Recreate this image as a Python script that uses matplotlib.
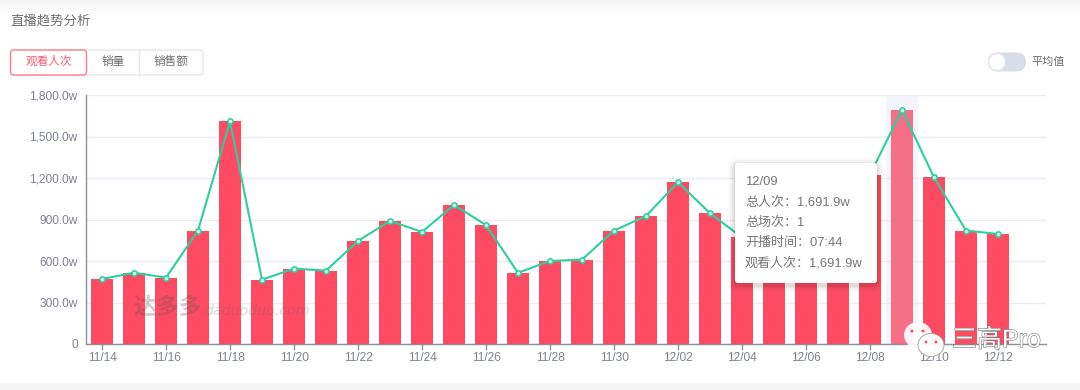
import matplotlib
matplotlib.use('Agg')
import matplotlib.pyplot as plt
import matplotlib.patheffects as pe
from matplotlib.patches import FancyBboxPatch, Rectangle, Ellipse, Polygon
import numpy as np

plt.rcParams['font.family'] = ['Liberation Sans', 'Noto Sans CJK SC', 'DejaVu Sans']

# data (12/05-12/07 tops are behind the tooltip, estimated)
days = ['11/14', '11/15', '11/16', '11/17', '11/18', '11/19', '11/20', '11/21', '11/22', '11/23',
        '11/24', '11/25', '11/26', '11/27', '11/28', '11/29', '11/30', '12/01', '12/02', '12/03',
        '12/04', '12/05', '12/06', '12/07', '12/08', '12/09', '12/10', '12/11', '12/12']
views = [470, 515, 480, 820, 1610, 465, 545, 530, 745, 890,
         810, 1005, 860, 515, 600, 610, 820, 925, 1170, 945,
         770, 800, 860, 930, 1225, 1691.9, 1205, 820, 795]
yticks = [0, 300, 600, 900, 1200, 1500, 1800]
ylabels = ['0', '300.0w', '600.0w', '900.0w', '1,200.0w', '1,500.0w', '1,800.0w']
tabs = ['观看人次', '销量', '销售额']
tip_lines = ['12/09', '总人次：1,691.9w', '总场次：1', '开播时间：07:44', '观看人次：1,691.9w']
hover = '12/09'

W, H = 1080, 390
fig = plt.figure(figsize=(W / 100, H / 100), dpi=100, facecolor='white')

# page chrome in pixel coordinates
bg = fig.add_axes([0, 0, 1, 1], zorder=0)
grad = np.linspace(0.955, 1, 16).reshape(-1, 1)
bg.imshow(grad, extent=(0, W, 16, 0), cmap='gray', vmin=0, vmax=1, aspect='auto')
bg.set_xlim(0, W)
bg.set_ylim(H, 0)
bg.axis('off')
bg.add_patch(Rectangle((0, 383), W, 7, fc='#f5f5f5', ec='none'))

# chart
ax = fig.add_axes([86 / W, 1 - 344 / H, 960 / W, 249 / H], zorder=1)
ax.patch.set_alpha(0)
x = np.arange(len(days))
hi = days.index(hover)
ax.axvspan(hi - 0.5, hi + 0.5, color='#f4f5fb', lw=0, zorder=0)
colors = ['#f76e87' if d == hover else '#ff4b62' for d in days]
ax.bar(x, views, width=0.69, color=colors, zorder=2)
ax.plot(x, views, color='#2ccf9f', lw=1.5, zorder=3, marker='o', ms=3.8,
        mfc='#c9f3e5', mec='#2ccf9f', mew=1.1, clip_on=False)
ax.set_xlim(-0.5, 29.5)
ax.set_ylim(0, 1800)
ax.set_yticks(yticks)
ax.set_yticklabels(ylabels)
ax.set_xticks(x[::2])
ax.set_xticklabels(days[::2])
ax.tick_params(axis='y', length=0, pad=6, labelsize=8.6, labelcolor='#7f8290')
ax.tick_params(axis='x', length=4, width=1, color='#8b8e98', pad=2, labelsize=8.6, labelcolor='#7f8290')
ax.grid(axis='y', color='#e9ebf5', lw=1, zorder=1)
ax.set_axisbelow(True)
for s in ['top', 'right']:
    ax.spines[s].set_visible(False)
for s in ['left', 'bottom']:
    ax.spines[s].set_color('#8b8e98')
    ax.spines[s].set_linewidth(1)

# overlay: title, tabs, toggle, tooltip, watermarks
ov = fig.add_axes([0, 0, 1, 1], zorder=2)
ov.set_xlim(0, W)
ov.set_ylim(H, 0)
ov.axis('off')
ov.text(10, 21, '直播趋势分析', fontsize=9.6, color='#6e6e6e', va='center')

ov.add_patch(FancyBboxPatch((13, 50), 190, 25, boxstyle='round,pad=0,rounding_size=3',
                            fc='white', ec='#e8e8ea', lw=1))
ov.plot([138.5, 138.5], [50, 75], color='#e8e8ea', lw=1)
ov.add_patch(FancyBboxPatch((10.5, 50), 76, 25, boxstyle='round,pad=0,rounding_size=3',
                            fc='white', ec='#ff7c8c', lw=1))
tab_x = [48.5, 113, 171]
tab_c = ['#ff5a70', '#6e6e6e', '#6e6e6e']
for t, tx, c in zip(tabs, tab_x, tab_c):
    ov.text(tx, 62, t, fontsize=8.4, color=c, ha='center', va='center')

ov.add_patch(FancyBboxPatch((988, 52.5), 38, 19, boxstyle='round,pad=0,rounding_size=9.5',
                            fc='#d9dde7', ec='none'))
ov.add_patch(Ellipse((997, 62), 17, 17, fc='white', ec='#e4e7ef', lw=1))
ov.text(1031, 62, '平均值', fontsize=8, color='#6e6e6e', va='center')

# tooltip with soft shadow
for grow, a in [(7, 0.02), (5, 0.03), (3, 0.04), (1.5, 0.05)]:
    ov.add_patch(FancyBboxPatch((735 - grow, 163 - grow + 2), 142 + 2 * grow, 120 + 2 * grow,
                                boxstyle='round,pad=0,rounding_size=%g' % (3 + grow),
                                fc='black', ec='none', alpha=a))
ov.add_patch(FancyBboxPatch((735, 163), 142, 120, boxstyle='round,pad=0,rounding_size=3',
                            fc='white', ec='none'))
for i, t in enumerate(tip_lines):
    ov.text(745, 182 + i * 20.2, t, fontsize=9.4, color='#777777', va='center')

# watermarks
ov.text(133, 307, '达多多', fontsize=16.5, fontweight='bold', style='italic', color='#555555', alpha=0.28,
        va='center', family=['Noto Sans CJK SC', 'DejaVu Sans'])
ov.text(204, 311, 'daduoduo.com', fontsize=10.2, style='italic', color='#666666', alpha=0.25, va='center',
        family='DejaVu Sans')
ov.add_patch(Ellipse((918, 335), 28, 26, fc='white', ec='none', alpha=0.92))
ov.add_patch(Polygon([[908, 343], [907, 351], [917, 346]], fc='white', ec='none', alpha=0.92))
ov.add_patch(Ellipse((931, 345), 26, 23, fc='white', ec='#9a9a9a', lw=0.6, alpha=0.95))
for ex, ey, r in [(912, 331, 3), (923, 331, 3), (926, 342, 2.8), (936, 342, 2.8)]:
    ov.add_patch(Ellipse((ex, ey), r, r, fc='#ff4b62', ec='none'))
ov.text(952, 340, '三高Pro', fontsize=18, color='white', va='center', fontweight='light',
        path_effects=[pe.withStroke(linewidth=0.8, foreground='#777777')])

fig.savefig('out.png', dpi=100)
